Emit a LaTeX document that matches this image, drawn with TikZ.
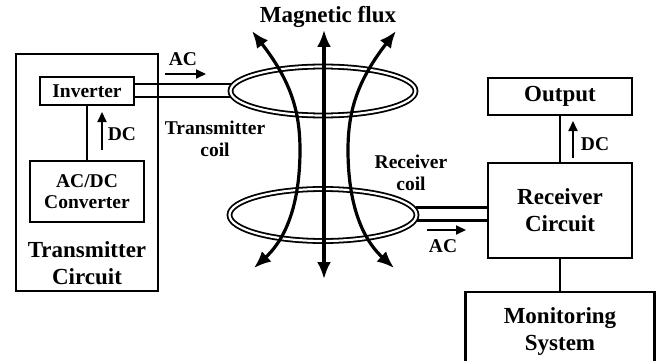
\documentclass[tikz,border=0pt]{standalone}
\usepackage{fontspec}
\setmainfont{Liberation Serif}
\usetikzlibrary{shapes,arrows.meta,positioning,calc}

\begin{document}
\begin{tikzpicture}[x=1pt, y=-1pt,
    every node/.style={align=center},
    blk/.style={draw, line width=2.1pt, inner sep=0pt},
    big/.style={font=\fontsize{23}{27}\selectfont\bfseries},
    sml/.style={font=\fontsize{19.5}{21.5}\selectfont\bfseries},
    wire/.style={line width=2.1pt},
    flow/.style={line width=2pt, -{Triangle[length=10pt, width=9pt]}},
    flux/.style={line width=3.2pt, {Latex[length=17pt, width=14pt]}-{Latex[length=17pt, width=14pt]}},
    coil/.style={line width=1.8pt, double, double distance=2.2pt}]
  \useasboundingbox (0,0) rectangle (659,361);
  % Transmitter side
  \node[blk, minimum width=142, minimum height=237] (tx) at (87,172.5) {};
  \node[blk, sml, minimum width=94, minimum height=28] (inv) at (87,91) {Inverter};
  \node[blk, sml, minimum width=114, minimum height=61] (conv) at (87,191.5) {AC/DC\\Converter};
  \node[big] (txlbl) at (87,263) {Transmitter\\Circuit};
  \draw[wire] (inv) -- (conv);
  \coordinate (dca) at (102,150);
  \coordinate (dcb) at (102,112);
  \draw[flow] (dca) -- (dcb);
  \node[sml] (dc1) at (122,134) {DC};
  % Receiver side
  \node[blk, big, minimum width=144, minimum height=37] (out) at (560,96.5) {Output};
  \node[blk, big, minimum width=144, minimum height=95] (rx) at (560,210.5) {Receiver\\Circuit};
  \node[blk, big, minimum width=189, minimum height=80] (mon) at (560,332) {Monitoring\\System};
  \draw[wire] (out) -- (rx);
  \draw[wire] (rx) -- (mon);
  \coordinate (dcc) at (573,158);
  \coordinate (dcd) at (573,121);
  \draw[flow] (dcc) -- (dcd);
  \node[sml] (dc2) at (595,144) {DC};
  % Coils
  \draw[coil] (323,91) ellipse [x radius=92.5, y radius=24.5];
  \draw[coil] (323,215) ellipse [x radius=93.5, y radius=26];
  \coordinate (tl1) at (231,84);
  \coordinate (tl2) at (230,97);
  \draw[wire] (inv.east |- tl1) -- (tl1);
  \draw[wire] (inv.east |- tl2) -- (tl2);
  \coordinate (rl1) at (415.5,207.5);
  \coordinate (rl2) at (417,220.5);
  \draw[wire] (rl1) -- (rx.west |- rl1);
  \draw[wire] (rl2) -- (rx.west |- rl2);
  \node[sml] (tclbl) at (215,139) {Transmitter\\coil};
  \node[sml] (rclbl) at (411,173) {Receiver\\coil};
  % AC arrows
  \coordinate (aca) at (165,74);
  \coordinate (acb) at (206,74);
  \draw[flow] (aca) -- (acb);
  \node[sml] (ac1) at (183,59) {AC};
  \coordinate (acc) at (427,230);
  \coordinate (acd) at (466,230);
  \draw[flow] (acc) -- (acd);
  \node[sml] (ac2) at (443,246) {AC};
  % Magnetic flux lines
  \node[big] (fluxlbl) at (328,17) {Magnetic flux};
  \draw[flux] (324,30) -- (324,279);
  \draw[flux] (252,31) .. controls (290,80) and (300,110) .. (300,150) .. controls (300,195) and (290,235) .. (254,268);
  \draw[flux] (396,31) .. controls (358,80) and (348,110) .. (348,150) .. controls (348,195) and (358,235) .. (394,268);
\end{tikzpicture}
\end{document}
